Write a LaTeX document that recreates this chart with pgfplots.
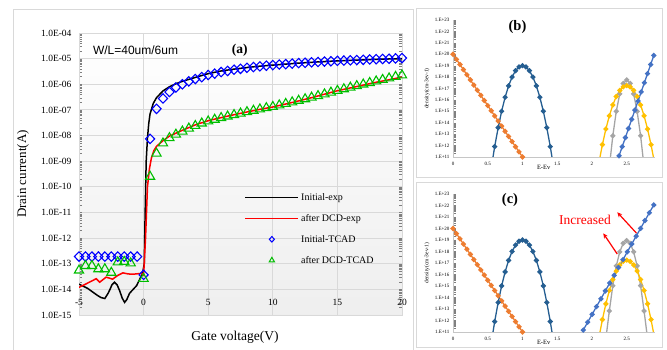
\documentclass[border=0pt]{standalone}
\usepackage{fontspec}
\setmainfont{Liberation Serif}
\newfontfamily\arial{Liberation Sans}
\usepackage{pgfplots}
\pgfplotsset{compat=1.18}
\usetikzlibrary{arrows.meta}
\definecolor{xlorange}{HTML}{ED7D31}
\definecolor{xldark}{HTML}{255E91}
\definecolor{xlgray}{HTML}{A5A5A5}
\definecolor{xlgold}{HTML}{FFC000}
\definecolor{xlblue}{HTML}{4472C4}
\definecolor{tcgreen}{RGB}{0,190,0}
\definecolor{gridc}{HTML}{D9D9D9}
\definecolor{framec}{HTML}{D9D9D9}
\begin{document}
\begin{tikzpicture}
\path[use as bounding box] (0pt,0pt) rectangle (667pt,350pt);
% panel frames
\draw[framec, line width=0.8pt] (13pt,0pt) -- (13pt,341pt) -- (413pt,341pt) -- (413pt,0pt);
\draw[framec, line width=0.8pt] (416pt,173pt) rectangle (662pt,342pt);
\draw[framec, line width=0.8pt] (416pt,3pt) rectangle (662pt,168pt);

% ================= panel (a)
\begin{axis}[
  at={(79pt,35pt)}, anchor=south west, scale only axis, width=323pt, height=282pt,
  ymode=log, xmin=-5, xmax=20, ymin=1e-15, ymax=1e-4,
  xtick={-5,0,5,10,15,20},
  ytick={1e-15,1e-14,1e-13,1e-12,1e-11,1e-10,1e-9,1e-8,1e-7,1e-6,1e-5,1e-4},
  yticklabels={1.0E-15,1.0E-14,1.0E-13,1.0E-12,1.0E-11,1.0E-10,1.0E-09,1.0E-08,1.0E-07,1.0E-06,1.0E-05,1.0E-04},
  grid=major, grid style={gridc, line width=0.9pt},
  axis line style={gridc, line width=0.9pt},
  major tick length=0pt,
  /pgf/number format/assume math mode=true,
  tick label style={font=\fontsize{9.5}{11}\selectfont},
  xticklabel style={anchor=center, yshift=13pt},
  yticklabel style={xshift=-4pt},
  axis background/.style={shade, top color=white, bottom color=gray!13},
  xlabel={Gate voltage(V)},
  xlabel style={font=\fontsize{13.5}{15}\selectfont, at={(axis description cs:0.483,-0.078)}, anchor=center},
  ylabel={Drain current(A)},
  ylabel style={font=\fontsize{13}{15}\selectfont, at={(axis description cs:-0.173,0.5)}, anchor=center},
  legend style={at={(axis description cs:0.512,0.44)}, anchor=north west, draw=none, fill=none,
    font=\fontsize{10}{12}\selectfont, row sep=8.5pt, inner sep=0pt},
  legend cell align=left,
  legend image code/.code={\draw[mark repeat=2,mark phase=2,#1] plot coordinates {(0pt,0pt) (26.5pt,0pt) (53pt,0pt)};},
]
\addplot[black, line width=1.5pt, forget plot] coordinates {
(-5,1.6e-14) (-4.34,1.1e-14) (-3.57,5.8e-15) (-3.3,4.8e-15) (-3.0,4.4e-15) (-2.75,7e-15) (-2.6,1.0e-14) (-2.45,1.5e-14) (-2.25,1.9e-14) (-2.05,1.5e-14) (-1.86,9e-15) (-1.65,4.5e-15) (-1.47,3.1e-15) (-1.3,4e-15) (-1.09,7e-15) (-0.54,1.4e-14) (-0.08,4.2e-14) (0.05,1e-13) (0.12,1e-11) (0.2,1e-9) (0.3,8e-9) (0.4,3e-8) (0.5,7e-8) (0.75,1.8e-7) (1,3e-7) (1.5,5.5e-7) (2,8e-7) (2.5,1.05e-6) (3,1.3e-6) (4,1.85e-6) (5,2.6e-6) (6,3.3e-6) (7,3.9e-6) (8,4.5e-6) (9,5.1e-6) (10,5.6e-6) (12,6.7e-6) (14,7.7e-6) (16,8.6e-6) (18,9.4e-6) (20,1.0e-5)};
\addplot[red, line width=1.5pt, forget plot] coordinates {
(-5,1.2e-14) (-4.6,1.5e-14) (-4.2,1.9e-14) (-3.67,2.6e-14) (-3.4,1.9e-14) (-2.9,3.0e-14) (-2.4,2.5e-14) (-2.0,3.5e-14) (-1.6,4.4e-14) (-1.2,4.0e-14) (-0.83,3.9e-14) (-0.18,4.2e-14) (0,3.6e-14) (0.15,1e-12) (0.3,1e-10) (0.45,5e-10) (0.6,1.3e-9) (0.8,2.6e-9) (1,3.8e-9) (1.5,6.3e-9) (2,9.5e-9) (3,1.6e-8) (4,2.6e-8) (5,3.8e-8) (6,5e-8) (7,6.5e-8) (8,8.3e-8) (9,1.05e-7) (10,1.3e-7) (11,1.7e-7) (12,2.24e-7) (13,3e-7) (14,4.1e-7) (15,5.6e-7) (16,7.2e-7) (17,9.3e-7) (18,1.2e-6) (19,1.5e-6) (20,1.9e-6)};
\addplot[blue, only marks, mark=diamond, mark size=4.7pt, mark options={line width=1.1pt, xscale=1.3}, forget plot] coordinates {
(-5,1.9e-13) (-4.5,1.9e-13) (-4,1.9e-13) (-3.5,1.9e-13) (-3,1.9e-13) (-2.5,1.9e-13) (-2,1.9e-13) (-1.5,1.9e-13) (-1,1.9e-13) (-0.5,1.9e-13) (0,3.7e-14)
(0.5,7.4e-9) (1,1.1e-7) (1.5,2.8e-7) (2,5.0e-7) (2.5,7.5e-7) (3,1.0e-6) (3.5,1.3e-6) (4,1.6e-6) (4.5,1.9e-6) (5,2.3e-6) (5.5,2.6e-6) (6,3.0e-6) (6.5,3.3e-6) (7,3.7e-6) (7.5,4.0e-6) (8,4.4e-6) (8.5,4.7e-6) (9,5.0e-6) (9.5,5.3e-6) (10,5.6e-6) (10.5,5.9e-6) (11,6.1e-6) (11.5,6.4e-6) (12,6.7e-6) (12.5,6.9e-6) (13,7.2e-6) (13.5,7.4e-6) (14,7.7e-6) (14.5,7.9e-6) (15,8.2e-6) (15.5,8.4e-6) (16,8.6e-6) (16.5,8.8e-6) (17,9.0e-6) (17.5,9.3e-6) (18,9.5e-6) (18.5,9.7e-6) (19,9.9e-6) (19.5,1.02e-5) (20,1.05e-5)};
\addplot[tcgreen, only marks, mark=triangle, mark size=5.3pt, mark options={line width=1.1pt}, forget plot] coordinates {
(-5,5.5e-14) (-4.5,8.3e-14) (-4,8.3e-14) (-3.5,6.2e-14) (-3,6.2e-14) (-2.5,4.5e-14) (-2,1.15e-13) (-1.5,1.2e-13) (-1,1.05e-13) (0,2.6e-14)
(0.5,2.5e-10) (1,2e-9) (1.5,5e-9) (2,8e-9) (2.5,1.1e-8) (3,1.45e-8) (3.5,1.9e-8) (4,2.4e-8) (4.5,3e-8) (5,3.6e-8) (5.5,4.2e-8) (6,4.9e-8) (6.5,5.6e-8) (7,6.4e-8) (7.5,7.3e-8) (8,8.3e-8) (8.5,9.4e-8) (9,1.06e-7) (9.5,1.19e-7) (10,1.33e-7) (10.5,1.52e-7) (11,1.74e-7) (11.5,2e-7) (12,2.3e-7) (12.5,2.65e-7) (13,3.05e-7) (13.5,3.5e-7) (14,4.1e-7) (14.5,4.8e-7) (15,5.6e-7) (15.5,6.5e-7) (16,7.5e-7) (16.5,8.6e-7) (17,9.9e-7) (17.5,1.14e-6) (18,1.31e-6) (18.5,1.5e-6) (19,1.72e-6) (19.5,1.97e-6) (20,2.25e-6)};
\addlegendimage{color=black, line width=1.5pt}
\addlegendentry{Initial-exp}
\addlegendimage{color=red, line width=1.6pt}
\addlegendentry{after DCD-exp}
\addlegendimage{color=blue, only marks, mark=diamond, mark size=2.8pt, mark options={line width=1pt, xscale=1.2}}
\addlegendentry{Initial-TCAD}
\addlegendimage{color=tcgreen, only marks, mark=triangle, mark size=3pt, mark options={line width=1pt}}
\addlegendentry{after DCD-TCAD}
\node at (axis description cs:0.175,0.94) {\arial\fontsize{12}{14}\selectfont W/L=40um/6um};
\node at (axis description cs:0.498,0.94) {\bfseries\fontsize{13.5}{15}\selectfont (a)};
\end{axis}

% ================= panel (b)
\begin{axis}[
  at={(453pt,193pt)}, anchor=south west, scale only axis, width=201.5pt, height=137pt,
  ymode=log, xmin=0, xmax=2.9, ymin=1e11, ymax=1e23,
  axis x line*=bottom, axis y line*=left,
  axis line style={draw=gray!45, -},
  major tick length=0pt,
  xtick={0,0.5,1,1.5,2,2.5}, xticklabels={0,0.5,1,1.5,2,2.5},
  ytick={1e11,1e12,1e13,1e14,1e15,1e16,1e17,1e18,1e19,1e20,1e21,1e22,1e23},
  yticklabels={1.E+11,1.E+12,1.E+13,1.E+14,1.E+15,1.E+16,1.E+17,1.E+18,1.E+19,1.E+20,1.E+21,1.E+22,1.E+23},
  tick label style={font=\fontsize{5}{6}\selectfont},
  xticklabel style={yshift=-2pt},
  xlabel={E-Ev}, xlabel style={font=\fontsize{6.5}{7}\selectfont, at={(axis description cs:0.45,0)}, anchor=north, yshift=-5pt},
  ylabel={density(cm-3ev-1)}, ylabel style={font=\fontsize{5.5}{6}\selectfont, at={(axis description cs:-0.129,0.5)}, anchor=center},
]
\addplot[xlorange, mark=*, line width=1.3pt, mark size=1.9pt] coordinates {(0,1e20) (0.05,3.55e19) (0.1,1.26e19) (0.15,4.47e18) (0.2,1.58e18) (0.25,5.62e17) (0.3,2.0e17) (0.35,7.08e16) (0.4,2.51e16) (0.45,8.91e15) (0.5,3.16e15) (0.55,1.12e15) (0.6,3.98e14) (0.65,1.41e14) (0.7,5.01e13) (0.75,1.78e13) (0.8,6.31e12) (0.85,2.24e12) (0.9,7.94e11) (0.95,2.82e11) (1.0,1e11)};
\addplot[xldark, mark=*, line width=1.3pt, mark size=1.9pt] coordinates {(0.55,1.07e10) (0.6,8.13e11) (0.65,3.72e13) (0.7,1.02e15) (0.75,1.70e16) (0.8,1.70e17) (0.85,1e18) (0.9,3.63e18) (0.95,7.76e18) (1,1e19) (1.05,7.76e18) (1.1,3.63e18) (1.15,1e18) (1.2,1.70e17) (1.25,1.70e16) (1.3,1.02e15) (1.35,3.72e13) (1.4,8.13e11) (1.45,1.07e10)};
\addplot[xlgray, mark=*, line width=1.3pt, mark size=1.9pt] coordinates {(2.25,1.29e10) (2.3,7.24e12) (2.35,1e15) (2.4,3.39e16) (2.45,2.75e17) (2.5,5.62e17) (2.55,2.75e17) (2.6,3.39e16) (2.65,1e15) (2.7,7.24e12) (2.75,1.29e10)};
\addplot[xlgold, mark=*, line width=1.3pt, mark size=1.9pt] coordinates {(2.1,3.16e10) (2.15,1.2e12) (2.2,2.82e13) (2.25,4.07e14) (2.3,3.63e15) (2.35,2.0e16) (2.4,6.76e16) (2.45,1.38e17) (2.5,1.78e17) (2.55,1.38e17) (2.6,6.76e16) (2.65,2.0e16) (2.7,3.63e15) (2.75,4.07e14) (2.8,2.82e13) (2.85,1.2e12) (2.9,3.16e10)};
\addplot[xlblue, mark=*, line width=1.3pt, mark size=1.9pt] coordinates {(2.39,1.26e11) (2.435,7.94e11) (2.481,5.01e12) (2.526,3.16e13) (2.572,2.0e14) (2.617,1.26e15) (2.663,7.94e15) (2.708,5.01e16) (2.754,3.16e17) (2.799,2.0e18) (2.845,1.26e19) (2.89,7.94e19)};
\node at (axis description cs:0.32,0.95) {\bfseries\fontsize{14.5}{16}\selectfont (b)};
\end{axis}

% ================= panel (c)
\begin{axis}[
  at={(453pt,18pt)}, anchor=south west, scale only axis, width=201.5pt, height=138pt,
  ymode=log, xmin=0, xmax=2.9, ymin=1e11, ymax=1e23,
  axis x line*=bottom, axis y line*=left,
  axis line style={draw=gray!45, -},
  major tick length=0pt,
  xtick={0,0.5,1,1.5,2,2.5}, xticklabels={0,0.5,1,1.5,2,2.5},
  ytick={1e11,1e12,1e13,1e14,1e15,1e16,1e17,1e18,1e19,1e20,1e21,1e22,1e23},
  yticklabels={1.E+11,1.E+12,1.E+13,1.E+14,1.E+15,1.E+16,1.E+17,1.E+18,1.E+19,1.E+20,1.E+21,1.E+22,1.E+23},
  tick label style={font=\fontsize{5}{6}\selectfont},
  xticklabel style={yshift=-2pt},
  xlabel={E-Ev}, xlabel style={font=\fontsize{6.5}{7}\selectfont, at={(axis description cs:0.45,0)}, anchor=north, yshift=-5pt},
  ylabel={density(cm-3ev-1)}, ylabel style={font=\fontsize{5.5}{6}\selectfont, at={(axis description cs:-0.129,0.5)}, anchor=center},
]
\addplot[xlorange, mark=*, line width=1.3pt, mark size=1.9pt] coordinates {(0,1e20) (0.05,3.55e19) (0.1,1.26e19) (0.15,4.47e18) (0.2,1.58e18) (0.25,5.62e17) (0.3,2.0e17) (0.35,7.08e16) (0.4,2.51e16) (0.45,8.91e15) (0.5,3.16e15) (0.55,1.12e15) (0.6,3.98e14) (0.65,1.41e14) (0.7,5.01e13) (0.75,1.78e13) (0.8,6.31e12) (0.85,2.24e12) (0.9,7.94e11) (0.95,2.82e11) (1.0,1e11)};
\addplot[xldark, mark=*, line width=1.3pt, mark size=1.9pt] coordinates {(0.55,1.07e10) (0.6,8.13e11) (0.65,3.72e13) (0.7,1.02e15) (0.75,1.70e16) (0.8,1.70e17) (0.85,1e18) (0.9,3.63e18) (0.95,7.76e18) (1,1e19) (1.05,7.76e18) (1.1,3.63e18) (1.15,1e18) (1.2,1.70e17) (1.25,1.70e16) (1.3,1.02e15) (1.35,3.72e13) (1.4,8.13e11) (1.45,1.07e10)};
\addplot[xlgray, mark=*, line width=1.3pt, mark size=1.9pt] coordinates {(2.2,2.69e10) (2.25,6.76e12) (2.3,1.07e15) (2.35,5.62e16) (2.4,9.33e17) (2.45,5.13e18) (2.5,8.91e18) (2.55,5.13e18) (2.6,9.33e17) (2.65,5.62e16) (2.7,1.07e15) (2.75,6.76e12) (2.8,2.69e10)};
\addplot[xlgold, mark=*, line width=1.3pt, mark size=1.9pt] coordinates {(2.1,3.16e10) (2.15,1.2e12) (2.2,2.82e13) (2.25,4.07e14) (2.3,3.63e15) (2.35,2.0e16) (2.4,6.76e16) (2.45,1.38e17) (2.5,1.78e17) (2.55,1.38e17) (2.6,6.76e16) (2.65,2.0e16) (2.7,3.63e15) (2.75,4.07e14) (2.8,2.82e13) (2.85,1.2e12) (2.9,3.16e10)};
\addplot[xlblue, mark=*, line width=1.3pt, mark size=1.9pt] coordinates {(1.875,1.48e11) (1.938,7.08e11) (2.002,3.39e12) (2.065,1.62e13) (2.129,7.76e13) (2.192,3.72e14) (2.255,1.78e15) (2.319,8.51e15) (2.382,4.07e16) (2.446,1.95e17) (2.509,9.33e17) (2.572,4.47e18) (2.636,2.14e19) (2.699,1.02e20) (2.763,4.90e20) (2.826,2.34e21) (2.89,1.12e22)};
\node at (axis description cs:0.283,0.957) {\bfseries\fontsize{14.5}{16}\selectfont (c)};
\node[red] at (axis description cs:0.655,0.81) {\fontsize{13.5}{15}\selectfont Increased};
\draw[red, line width=1.2pt, -{Stealth[length=5pt,width=4.5pt]}] (axis cs:2.643,3.8e19) -- (axis cs:2.364,2.57e21);
\draw[red, line width=1.2pt, -{Stealth[length=5pt,width=4.5pt]}] (axis cs:2.364,6.0e17) -- (axis cs:2.163,3.8e19);
\end{axis}
\end{tikzpicture}
\end{document}
